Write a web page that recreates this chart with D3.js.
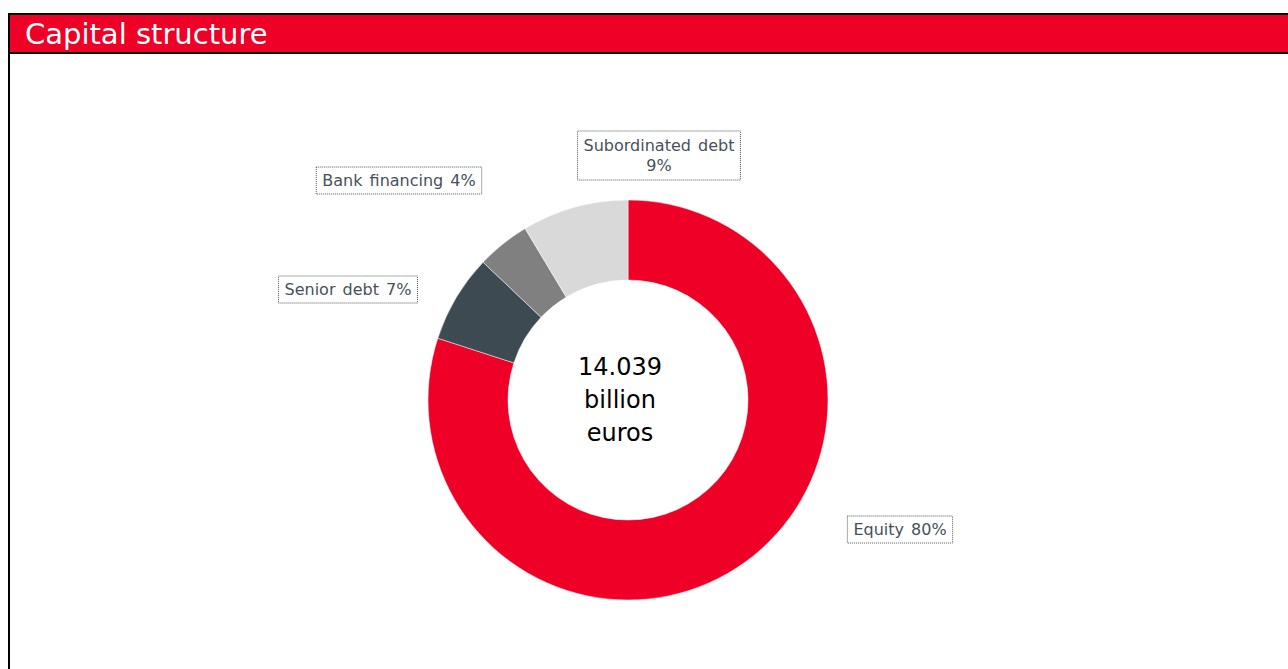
<!DOCTYPE html>
<html>
<head>
<meta charset="utf-8">
<script src="https://cdn.jsdelivr.net/npm/d3@7"></script>
<style>
    body { margin: 0; background: #fff; }
    svg { display: block; }
</style>
</head>
<body>
<div id="chart"></div>
<script>
// data
let categories = ['Equity', 'Senior debt', 'Bank financing', 'Subordinated debt'];
let shares = [80, 7.1, 4.3, 8.6];
let labelText = [['Equity 80%'], ['Senior debt 7%'], ['Bank financing 4%'], ['Subordinated debt', '9%']];
let colors = ['#ee0027', '#3d4a52', '#808080', '#d9d9d9'];
let centerLines = ['14.039', 'billion', 'euros'];
let title = 'Capital structure';

let width = 1288, height = 669;
let cx = 628, cy = 400;
let outerR = 200, innerR = 120;
// label box centers, relative to pie centre
let labelOffsets = [[272, 129], [-280, -111], [-229, -220], [31, -245]];

let svg = d3.select("#chart").append("svg")
    .attr("width", width)
    .attr("height", height);

// frame + title bar
svg.append("rect")
    .attr("x", 10).attr("y", 15)
    .attr("width", width).attr("height", 38)
    .attr("fill", "#ee0027");
svg.append("path")
    .attr("d", `M9,${height} V14 H${width} M9,53 H${width}`)
    .attr("fill", "none")
    .attr("stroke", "#000")
    .attr("stroke-width", 2);
svg.append("text")
    .attr("x", 25).attr("y", 44)
    .attr("fill", "#fff")
    .style("font-family", "DejaVu Sans")
    .style("font-size", "29px")
    .text(title);

let pie = d3.pie().sort(null).value(d => d);
let arc = d3.arc().innerRadius(innerR).outerRadius(outerR);
let arcs = pie(shares);

let g = svg.append("g").attr("transform", `translate(${cx},${cy})`);
g.selectAll("path.slice")
    .data(arcs)
    .join("path")
    .attr("class", "slice")
    .attr("d", arc)
    .attr("fill", (d, i) => colors[i])
    .attr("stroke", "#fff")
    .attr("stroke-width", 0.5);

// centre text
let ct = g.append("text")
    .attr("text-anchor", "middle")
    .attr("fill", "#000")
    .style("font-family", "DejaVu Sans")
    .style("font-size", "24px");
centerLines.forEach((t, i) => {
    ct.append("tspan").attr("x", -8).attr("y", -25 + i * 33).text(t);
});

// labels with dotted boxes
categories.forEach((c, i) => {
    let [ox, oy] = labelOffsets[i];
    let lines = labelText[i];
    let lg = g.append("g").attr("transform", `translate(${ox},${oy})`);
    let box = lg.append("rect");
    let txt = lg.append("text")
        .attr("text-anchor", "middle")
        .attr("fill", "#46515a")
        .style("font-family", "DejaVu Sans")
        .style("font-size", "16px")
        .style("word-spacing", "2px");
    let lh = 20;
    let y0 = -(lines.length - 1) * lh / 2 + 6;
    lines.forEach((t, j) => {
        txt.append("tspan").attr("x", 0).attr("y", y0 + j * lh).text(t);
    });
    let bb = txt.node().getBBox();
    let padX = 6, padY = lines.length > 1 ? 6 : 5;
    box.attr("x", bb.x - padX)
        .attr("y", bb.y - padY + 1)
        .attr("width", bb.width + padX * 2)
        .attr("height", bb.height + padY * 2 - 2)
        .attr("fill", "#fff")
        .attr("stroke", "#555")
        .attr("stroke-width", 1)
        .attr("stroke-dasharray", "1,1");
});
</script>
</body>
</html>
